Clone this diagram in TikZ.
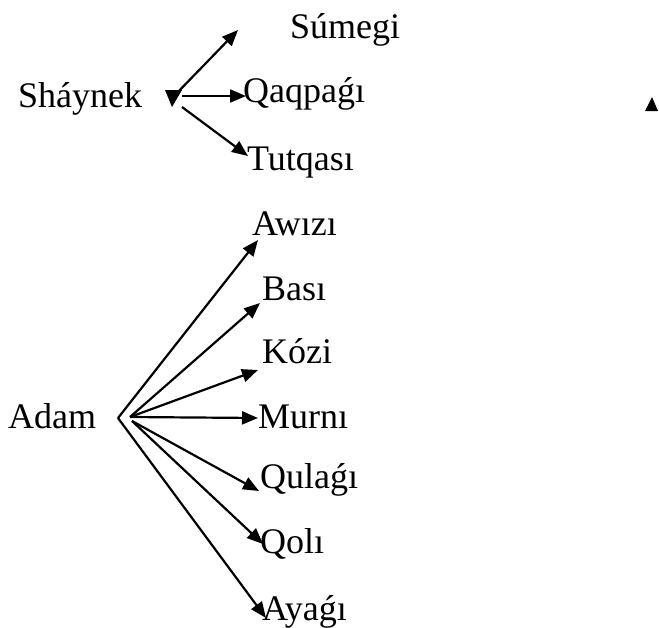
\documentclass[tikz,border=0pt]{standalone}
\usepackage{fontspec}
\setmainfont{Liberation Serif}
\usetikzlibrary{arrows.meta}
\tikzset{
  lbl/.style={anchor=base west, inner sep=0pt, font=\fontsize{36}{40}\selectfont},
  conn/.style={line width=2.2pt, -{Triangle[length=16pt,width=13pt]}},
  tipmark/.style={fill=black, draw=none}
}
\begin{document}
\begin{tikzpicture}[x=1pt,y=-1pt]
\useasboundingbox (0,0) rectangle (659,627);
% top group
\node[lbl] (shaynek) at (18,107) {Sháynek};
\node[lbl] (sumegi) at (290,38) {Súmegi};
\node[lbl] (qaqpagi) at (243,102) {Qaqpaǵı};
\node[lbl] (tutqasi) at (247,170) {Tutqası};
\coordinate (s1) at (175,95);
\coordinate (s2) at (182,96);
\coordinate (s3) at (182,107);
\coordinate (tsum) at (238,30);
\coordinate (tqaq) at (246,96);
\coordinate (ttut) at (248,156);
\draw[conn] (s1) -- (tsum);
\draw[conn] (s2) -- (tqaq);
\draw[conn] (s3) -- (ttut);
\fill[tipmark] (165,90) -- (182,90) -- (172,107) -- cycle;
% stray mark at right
\fill[tipmark] (652,97) -- (658,111) -- (645,111) -- cycle;
% bottom group
\node[lbl] (adam) at (8,428) {Adam};
\node[lbl] (awizi) at (252,235) {Awızı};
\node[lbl] (basi) at (262,300) {Bası};
\node[lbl] (kozi) at (262,363) {Kózi};
\node[lbl] (murni) at (258,428) {Murnı};
\node[lbl] (qulagi) at (260,488) {Qulaǵı};
\node[lbl] (qoli) at (260,553) {Qolı};
\node[lbl] (ayagi) at (262,620) {Ayaǵı};
\coordinate (a0) at (118,418);
\coordinate (a1) at (130,417);
\coordinate (a2) at (132,421);
\coordinate (tawi) at (258,240);
\coordinate (tbas) at (260,303);
\coordinate (tkoz) at (258,370);
\coordinate (tmur) at (258,418);
\coordinate (tqul) at (259,491);
\coordinate (tqol) at (263,544);
\coordinate (taya) at (266,618);
\draw[conn] (a0) -- (tawi);
\draw[conn] (a1) -- (tbas);
\draw[conn] (a1) -- (tkoz);
\draw[conn] (a1) -- (tmur);
\draw[conn] (a2) -- (tqul);
\draw[conn] (a2) -- (tqol);
\draw[conn] (a0) -- (taya);
\end{tikzpicture}
\end{document}
